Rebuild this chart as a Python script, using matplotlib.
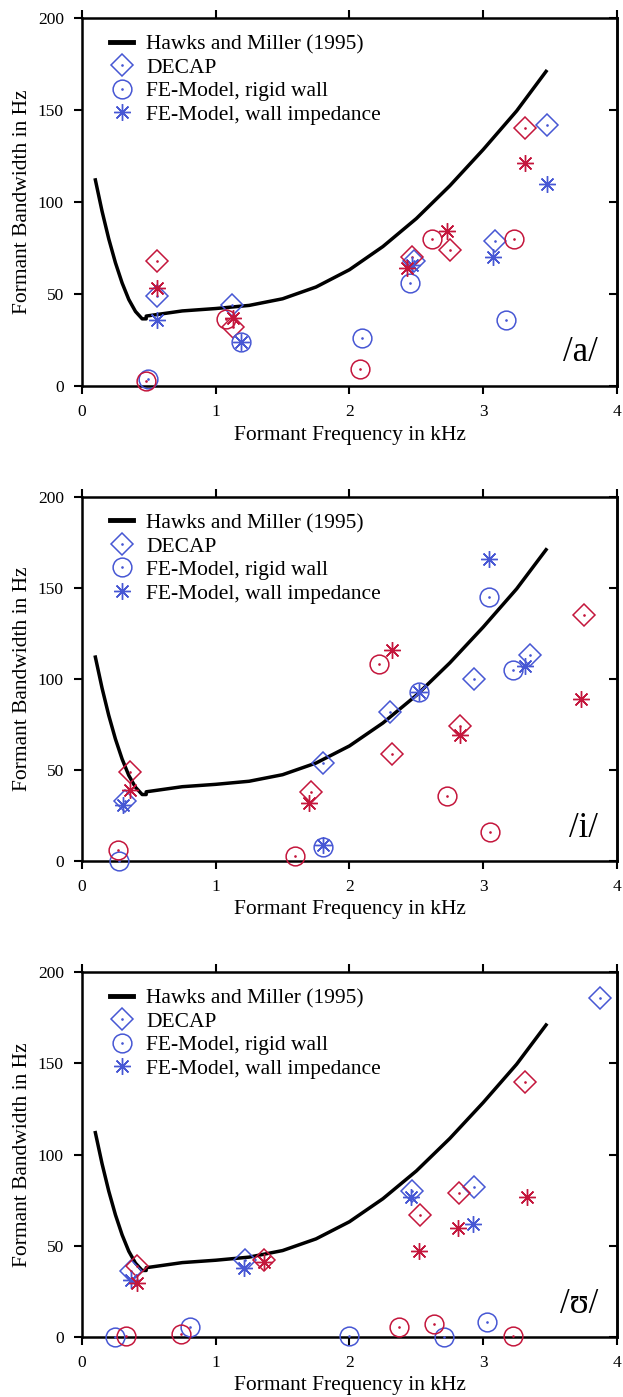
import matplotlib
matplotlib.use("Agg")
import matplotlib.pyplot as plt
from matplotlib.lines import Line2D

plt.rcParams['font.family'] = ['Liberation Serif', 'DejaVu Serif']

# Hawks and Miller (1995) curve (kHz, Hz)
hm_freq = [0.10, 0.15, 0.20, 0.25, 0.30, 0.35, 0.40, 0.45, 0.48,
           0.48, 0.75, 1.00, 1.25, 1.50, 1.75, 2.00, 2.25, 2.50, 2.75, 3.00, 3.25, 3.47]
hm_bw = [112, 95, 80, 67, 56, 47, 40.5, 36.5, 36.5,
         38.0, 40.8, 42.1, 43.8, 47.4, 53.8, 63.2, 75.8, 91.0, 108.8, 128.5, 149.5, 171]

# (frequency kHz, bandwidth Hz); blue = first set, red = second set
a_decap_blue = [(0.56, 49), (1.12, 44), (2.48, 68), (3.09, 79), (3.48, 142)]
a_decap_red = [(0.56, 68), (1.13, 32), (2.47, 70), (2.75, 74), (3.31, 140)]
a_rigid_blue = [(0.49, 4), (1.19, 24), (2.09, 26), (2.45, 56), (3.17, 36)]
a_rigid_red = [(0.48, 2.5), (1.08, 36.5), (2.08, 9), (2.62, 80), (3.23, 80)]
a_imp_blue = [(0.56, 36), (1.19, 24), (2.47, 66), (3.07, 70), (3.48, 110)]
a_imp_red = [(0.56, 53), (1.13, 37), (2.43, 64), (2.73, 84), (3.31, 121)]

i_decap_blue = [(0.32, 33), (1.80, 54), (2.30, 82), (2.93, 100), (3.35, 113)]
i_decap_red = [(0.36, 49), (1.71, 38), (2.32, 59), (2.83, 74), (3.75, 135)]
i_rigid_blue = [(0.28, 0), (1.80, 7.5), (2.52, 93), (3.04, 145), (3.22, 105)]
i_rigid_red = [(0.27, 6), (1.59, 3), (2.22, 108), (2.73, 35.5), (3.05, 16)]
i_imp_blue = [(0.31, 31), (1.80, 8.5), (2.52, 93), (3.04, 166), (3.31, 107)]
i_imp_red = [(0.36, 39), (1.70, 32), (2.32, 116), (2.83, 69), (3.73, 89)]

u_decap_blue = [(0.37, 36), (1.22, 42), (2.47, 80), (2.93, 82), (3.87, 186)]
u_decap_red = [(0.41, 39), (1.36, 42), (2.53, 67), (2.82, 79), (3.31, 140)]
u_rigid_blue = [(0.25, 0), (0.81, 5.5), (2.00, 0.5), (2.71, 0), (3.03, 8)]
u_rigid_red = [(0.33, 0.5), (0.74, 1.5), (2.37, 5.5), (2.63, 7), (3.22, 0.5)]
u_imp_blue = [(0.37, 31), (1.21, 38), (2.46, 77), (2.92, 62)]
u_imp_red = [(0.41, 29.5), (1.36, 41), (2.52, 47), (2.81, 60), (3.33, 77)]

vowels = ['/a/', '/i/', '/ʊ/']
panels = [
    (a_decap_blue, a_decap_red, a_rigid_blue, a_rigid_red, a_imp_blue, a_imp_red),
    (i_decap_blue, i_decap_red, i_rigid_blue, i_rigid_red, i_imp_blue, i_imp_red),
    (u_decap_blue, u_decap_red, u_rigid_blue, u_rigid_red, u_imp_blue, u_imp_red),
]

BLUE = '#4757d4'
RED = '#c4163c'
ASTER = (8, 2, 0)
mstyle = {'D': dict(marker='D', ms=11.5, mew=1.1),
          'o': dict(marker='o', ms=13.5, mew=1.1),
          '*': dict(marker=ASTER, ms=12, mew=1.0)}

fig = plt.figure(figsize=(6.23, 13.97), dpi=100)
boxes = [(0.7237, 0.2634), (0.3837, 0.2606), (0.0429, 0.2613)]


def pts(ax, data, kind, col):
    f = [p[0] for p in data]
    b = [p[1] for p in data]
    ax.plot(f, b, ls='none', color=col, mfc='none', clip_on=False, zorder=3, **mstyle[kind])
    if kind != '*':
        ax.plot(f, b, ls='none', marker='.', ms=1.8, color=col, clip_on=False, zorder=3)


for k in range(3):
    ax = fig.add_axes([0.1316, boxes[k][0], 0.8587, boxes[k][1]])
    ax.plot(hm_freq, hm_bw, color='black', lw=2.5, zorder=2.6)
    d = panels[k]
    pts(ax, d[0], 'D', BLUE)
    pts(ax, d[1], 'D', RED)
    pts(ax, d[2], 'o', BLUE)
    pts(ax, d[3], 'o', RED)
    pts(ax, d[4], '*', BLUE)
    pts(ax, d[5], '*', RED)

    ax.set_xlim(0, 4)
    ax.set_ylim(0, 200)
    ax.set_xticks([0, 1, 2, 3, 4])
    ax.set_yticks([0, 50, 100, 150, 200])
    for s in ax.spines.values():
        s.set_linewidth(1.8)
    ax.tick_params(axis='x', top=True, direction='out', length=6, width=1.5,
                   labelsize=12.5, pad=7)
    ax.tick_params(axis='y', right=False, direction='out', length=6, width=1.5,
                   labelsize=12.5, pad=7)
    sec = ax.secondary_yaxis('right')
    sec.set_yticks([0, 50, 100, 150, 200])
    sec.tick_params(direction='in', length=6, width=1.5, labelright=False)
    sec.spines['right'].set_linewidth(1.8)

    ax.set_xlabel('Formant Frequency in kHz', fontsize=15.5)
    ax.set_ylabel('Formant Bandwidth in Hz', fontsize=15.5)
    ax.xaxis.set_label_coords(0.5, -0.108)
    ax.yaxis.set_label_coords(-0.094, 0.5)

    ax.text(0.965, 0.09, vowels[k], transform=ax.transAxes, fontsize=25,
            ha='right', va='center')

    h_line = Line2D([], [], color='black', lw=3.5)
    h_dec = (Line2D([], [], ls='none', color=BLUE, mfc='none', **mstyle['D']),
             Line2D([], [], ls='none', marker='.', ms=1.8, color=BLUE))
    h_rig = (Line2D([], [], ls='none', color=BLUE, mfc='none', **mstyle['o']),
             Line2D([], [], ls='none', marker='.', ms=1.8, color=BLUE))
    h_imp = Line2D([], [], ls='none', color=BLUE, mfc='none', **mstyle['*'])
    ax.legend([h_line, h_dec, h_rig, h_imp],
              ['Hawks and Miller (1995)', 'DECAP', 'FE-Model, rigid wall',
               'FE-Model, wall impedance'],
              loc='upper left', bbox_to_anchor=(0.052, 0.956), frameon=False,
              fontsize=15.5, borderpad=0, borderaxespad=0, handlelength=1.1,
              handletextpad=0.6, labelspacing=0.16)

fig.savefig('out.png', dpi=100)
